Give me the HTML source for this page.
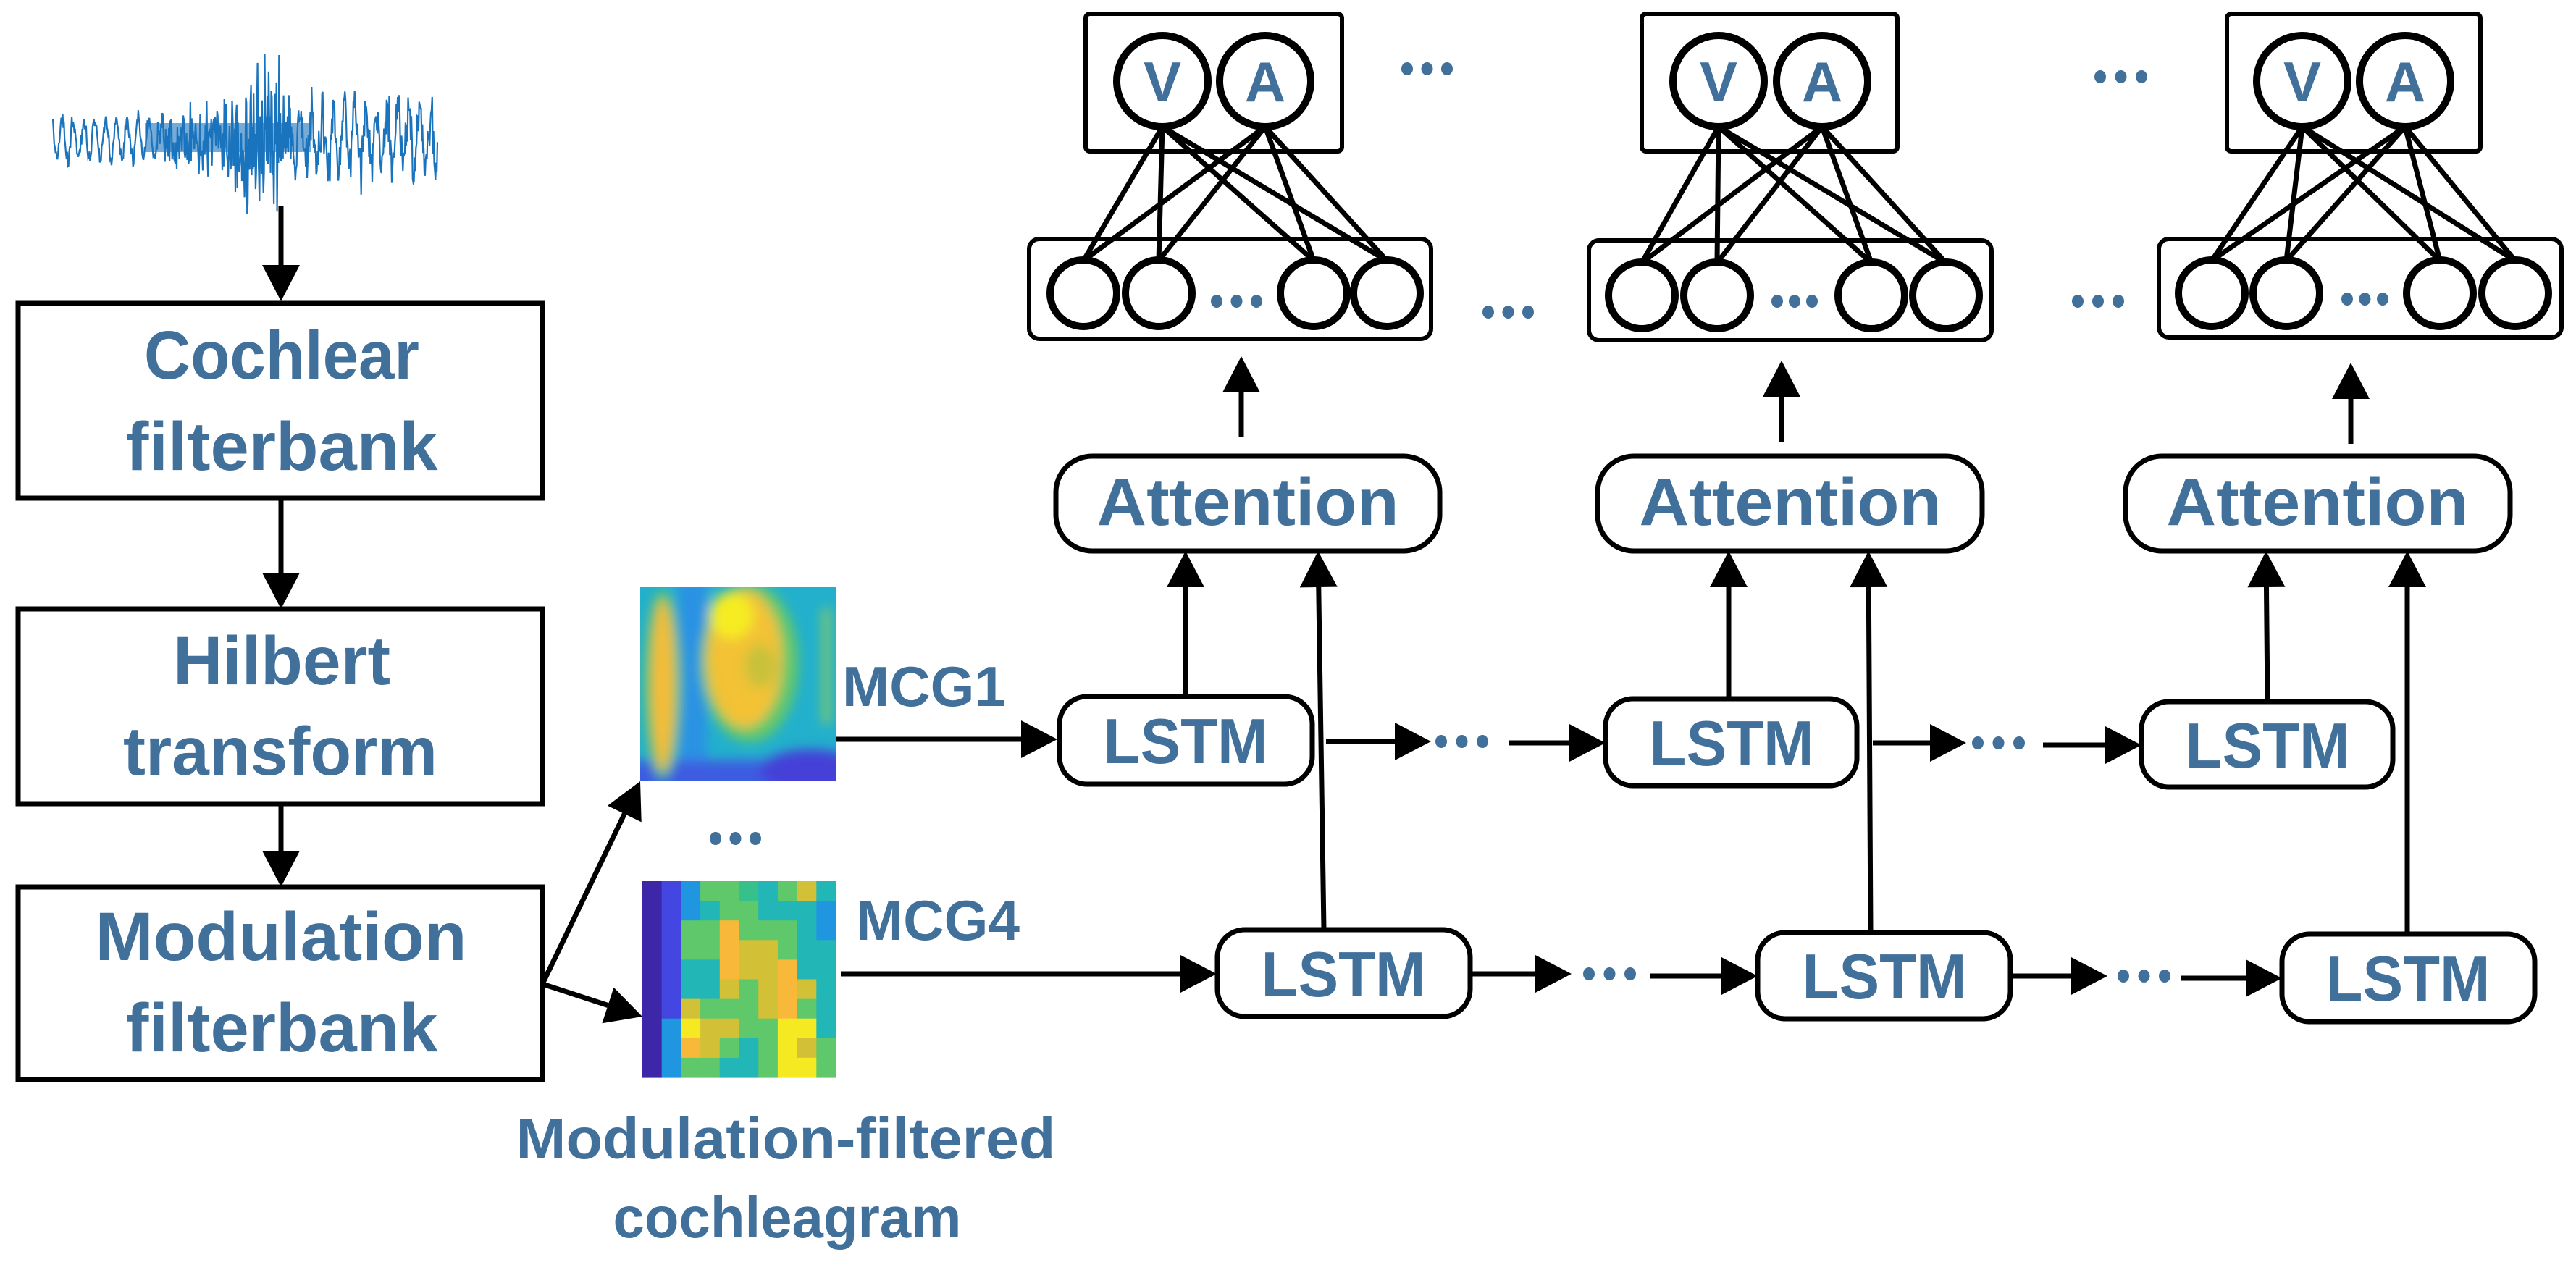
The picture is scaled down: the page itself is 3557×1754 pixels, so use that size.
<!DOCTYPE html>
<html><head><meta charset="utf-8"><style>
html,body{margin:0;padding:0;background:#fff;}
svg{display:block;}
text{font-family:"Liberation Sans",sans-serif;font-weight:bold;fill:#41709b;}
</style></head><body>
<svg id="s" xmlns="http://www.w3.org/2000/svg" width="3557" height="1754" viewBox="0 0 3557 1754">
<defs>
<filter id="bl" x="-10%" y="-10%" width="120%" height="120%"><feGaussianBlur stdDeviation="8"/></filter>
<clipPath id="c1"><rect x="884" y="811" width="270" height="268"/></clipPath>
</defs>
<rect width="3557" height="1754" fill="#fff"/>
<g id="wave"></g>
<g id="shapes" fill="none" stroke="#000" stroke-width="7">
<rect x="25" y="419" width="724" height="269"/>
<rect x="25" y="841" width="724" height="269"/>
<rect x="25" y="1225" width="724" height="266"/>
<rect x="1458" y="630" width="530" height="131" rx="50"/>
<rect x="2206" y="630" width="531" height="131" rx="50"/>
<rect x="2935" y="630" width="531" height="131" rx="50"/>
<rect x="1463" y="962" width="349" height="121" rx="38"/>
<rect x="2217" y="965" width="347" height="120" rx="38"/>
<rect x="2957" y="969" width="347" height="118" rx="38"/>
<rect x="1681" y="1284" width="349" height="120" rx="38"/>
<rect x="2427" y="1288" width="349" height="119" rx="38"/>
<rect x="3151" y="1290" width="349" height="121" rx="38"/>
</g>
<g id="nn"></g>
<g id="arrows"></g>
<g clip-path="url(#c1)">
<rect x="884" y="811" width="270" height="268" fill="#22b0cc"/>
<g filter="url(#bl)">
<rect x="936" y="800" width="40" height="290" fill="#2c92e4"/>
<rect x="870" y="1050" width="300" height="50" fill="#3d5be0"/>
<ellipse cx="1120" cy="1065" rx="70" ry="30" fill="#4541d8"/>
<ellipse cx="915" cy="945" rx="26" ry="130" fill="#5cc46e"/>
<ellipse cx="915" cy="945" rx="16" ry="118" fill="#f4bc37"/>
<ellipse cx="1035" cy="915" rx="68" ry="110" fill="#64c86a"/>
<ellipse cx="1028" cy="910" rx="52" ry="95" fill="#f3c236"/>
<ellipse cx="1010" cy="850" rx="30" ry="32" fill="#f6ec22"/>
<ellipse cx="1050" cy="920" rx="22" ry="30" fill="#c9c13a"/>
<rect x="1136" y="840" width="10" height="160" fill="#8fcc5c"/>
</g>
</g>
<g id="mcg4"></g>
<g id="dots" fill="#41709b"></g>
<text x="389" y="523" font-size="95" text-anchor="middle" textLength="380" lengthAdjust="spacingAndGlyphs">Cochlear</text>
<text x="389" y="649" font-size="95" text-anchor="middle" textLength="431" lengthAdjust="spacingAndGlyphs">filterbank</text>
<text x="389" y="945" font-size="95" text-anchor="middle" textLength="300" lengthAdjust="spacingAndGlyphs">Hilbert</text>
<text x="387" y="1070" font-size="95" text-anchor="middle" textLength="434" lengthAdjust="spacingAndGlyphs">transform</text>
<text x="388" y="1326" font-size="95" text-anchor="middle" textLength="513" lengthAdjust="spacingAndGlyphs">Modulation</text>
<text x="389" y="1452" font-size="95" text-anchor="middle" textLength="431" lengthAdjust="spacingAndGlyphs">filterbank</text>
<text x="1163" y="975" font-size="78" textLength="226" lengthAdjust="spacingAndGlyphs">MCG1</text>
<text x="1182" y="1298" font-size="78" textLength="226" lengthAdjust="spacingAndGlyphs">MCG4</text>
<text x="1085" y="1600" font-size="80" text-anchor="middle" textLength="745" lengthAdjust="spacingAndGlyphs">Modulation-filtered</text>
<text x="1087" y="1709" font-size="80" text-anchor="middle" textLength="481" lengthAdjust="spacingAndGlyphs">cochleagram</text>
<text x="1723" y="725" font-size="92" text-anchor="middle" textLength="417" lengthAdjust="spacingAndGlyphs">Attention</text>
<text x="2472" y="725" font-size="92" text-anchor="middle" textLength="417" lengthAdjust="spacingAndGlyphs">Attention</text>
<text x="3200" y="725" font-size="92" text-anchor="middle" textLength="417" lengthAdjust="spacingAndGlyphs">Attention</text>
<text x="1637" y="1054" font-size="88" text-anchor="middle" textLength="227" lengthAdjust="spacingAndGlyphs">LSTM</text>
<text x="2391" y="1057" font-size="88" text-anchor="middle" textLength="227" lengthAdjust="spacingAndGlyphs">LSTM</text>
<text x="3131" y="1060" font-size="88" text-anchor="middle" textLength="227" lengthAdjust="spacingAndGlyphs">LSTM</text>
<text x="1855" y="1376" font-size="88" text-anchor="middle" textLength="227" lengthAdjust="spacingAndGlyphs">LSTM</text>
<text x="2602" y="1379" font-size="88" text-anchor="middle" textLength="227" lengthAdjust="spacingAndGlyphs">LSTM</text>
<text x="3325" y="1382" font-size="88" text-anchor="middle" textLength="227" lengthAdjust="spacingAndGlyphs">LSTM</text>
<text x="1605" y="140" font-size="78" text-anchor="middle">V</text>
<text x="1747" y="140" font-size="78" text-anchor="middle">A</text>
<text x="2373" y="140" font-size="78" text-anchor="middle">V</text>
<text x="2516" y="140" font-size="78" text-anchor="middle">A</text>
<text x="3179" y="140" font-size="78" text-anchor="middle">V</text>
<text x="3321" y="140" font-size="78" text-anchor="middle">A</text>
</svg>
<script>
var NS="http://www.w3.org/2000/svg";
function el(p,t,a){var e=document.createElementNS(NS,t);for(var k in a)e.setAttribute(k,a[k]);document.getElementById(p).appendChild(e);return e;}
(function(){var seed=11;function r(){seed=(seed*16807)%2147483647;return seed/2147483647;}
var d="";var i=0;
for(var x=73;x<=604;x+=0.9){var t=(x-73)/531;var env,sl;
if(t<0.27){env=42;sl=0.35;}else if(t<0.45){env=50+(t-0.27)*250;sl=0.85;}else if(t<0.62){env=100+60*Math.exp(-Math.pow((t-0.54)/0.06,2));sl=1;}else{env=85;sl=0.55;}
var y=192+Math.sin(x*0.42)*env*(1-sl)+(r()*2-1)*env*sl*(0.3+0.7*r());
d+=(i++?" L":"M")+x.toFixed(1)+" "+y.toFixed(1);}
el("wave","path",{d:d,fill:"none",stroke:"#1a73bd","stroke-width":2.2});
el("wave","rect",{x:200,y:170,width:230,height:40,fill:"#1a73bd",opacity:0.6});})();
function arrow(x1,y1,x2,y2){var dx=x2-x1,dy=y2-y1,L=Math.hypot(dx,dy),ux=dx/L,uy=dy/L,h=50,w=26;
var bx=x2-ux*h,by=y2-uy*h;el("arrows","line",{x1:x1,y1:y1,x2:bx,y2:by,stroke:"#000","stroke-width":7});
el("arrows","polygon",{points:x2+","+y2+" "+(bx-uy*w)+","+(by+ux*w)+" "+(bx+uy*w)+","+(by-ux*w),fill:"#000"});}
arrow(388,285,388,416);arrow(388,688,388,841);arrow(388,1110,388,1225);
arrow(749,1359,884,1079);arrow(749,1359,887,1404);
arrow(1139,1021,1460,1021);arrow(1161,1345,1680,1345);
arrow(1831,1024,1976,1024);arrow(2083,1026,2217,1026);
arrow(2586,1026,2715,1026);arrow(2821,1029,2957,1029);
arrow(2032,1345,2170,1345);arrow(2278,1348,2427,1348);
arrow(2780,1348,2910,1348);arrow(3011,1351,3151,1351);
arrow(1637,962,1637,761);arrow(1828,1284,1820,761);
arrow(2387,965,2387,761);arrow(2583,1288,2580,761);
arrow(3131,969,3129,761);arrow(3324,1290,3324,761);
arrow(1714,604,1714,492);arrow(2460,610,2460,498);arrow(3246,613,3246,501);
function nn(bx1,bx2,v,a,lbx1,lbx2,ly1,ly2,cs,cy){
el("nn","rect",{x:bx1,y:19,width:bx2-bx1,height:190,fill:"none",stroke:"#000","stroke-width":6,rx:6});
el("nn","rect",{x:lbx1,y:ly1,width:lbx2-lbx1,height:ly2-ly1,fill:"none",stroke:"#000","stroke-width":6,rx:14});
[v,a].forEach(function(t){cs.forEach(function(c){el("nn","line",{x1:t,y1:175,x2:c,y2:cy-45,stroke:"#000","stroke-width":7});});});
[v,a].forEach(function(t){el("nn","circle",{cx:t,cy:112,r:63,fill:"#fff",stroke:"#000","stroke-width":10});});
cs.forEach(function(c){el("nn","circle",{cx:c,cy:cy,r:46,fill:"#fff",stroke:"#000","stroke-width":10});});}
nn(1499,1853,1605,1747,1421,1976,330,468,[1496,1600,1814,1915],405);
nn(2267,2620,2373,2516,2194,2750,332,470,[2267,2371,2584,2687],408);
nn(3075,3425,3179,3321,2981,3537,330,466,[3054,3157,3369,3473],405);
function dots(x1,x2,y){for(var i=0;i<3;i++)el("dots","ellipse",{cx:x1+i*(x2-x1)/2,cy:y,rx:8,ry:9});}
dots(1943,1998,95);dots(2055,2110,431);dots(2900,2957,106);dots(2869,2925,416);
dots(1680,1735,416);dots(2454,2502,416);dots(3241,3290,413);dots(988,1043,1158);
dots(1990,2047,1024);dots(2731,2788,1026);dots(2194,2251,1345);dots(2932,2989,1348);
var P={D:"#3e26a8",B:"#4346e0",L:"#2196e0",C:"#22b6b6",G:"#5fc86a",Y:"#d2c136",O:"#f8b93a",W:"#f5ea22",X:"#36c08c"};
var g=["DBLGGXCGYC","DBLCGGCCCL","DBGGOGGGCL","DBGGOYYGCC","DBCCOYYOCC","DBCCYGYOYC","DBYGGGYOGC","DLWYYGGWWC","DLOYGCGWYG","DLGGCCGWWG"];
var x0=887,y0=1217,cw=26.7,ch=27.1;
for(var r=0;r<10;r++)for(var c=0;c<10;c++)el("mcg4","rect",{x:x0+c*cw,y:y0+r*ch,width:cw+0.6,height:ch+0.6,fill:P[g[r][c]]});
</script>
</body></html>
